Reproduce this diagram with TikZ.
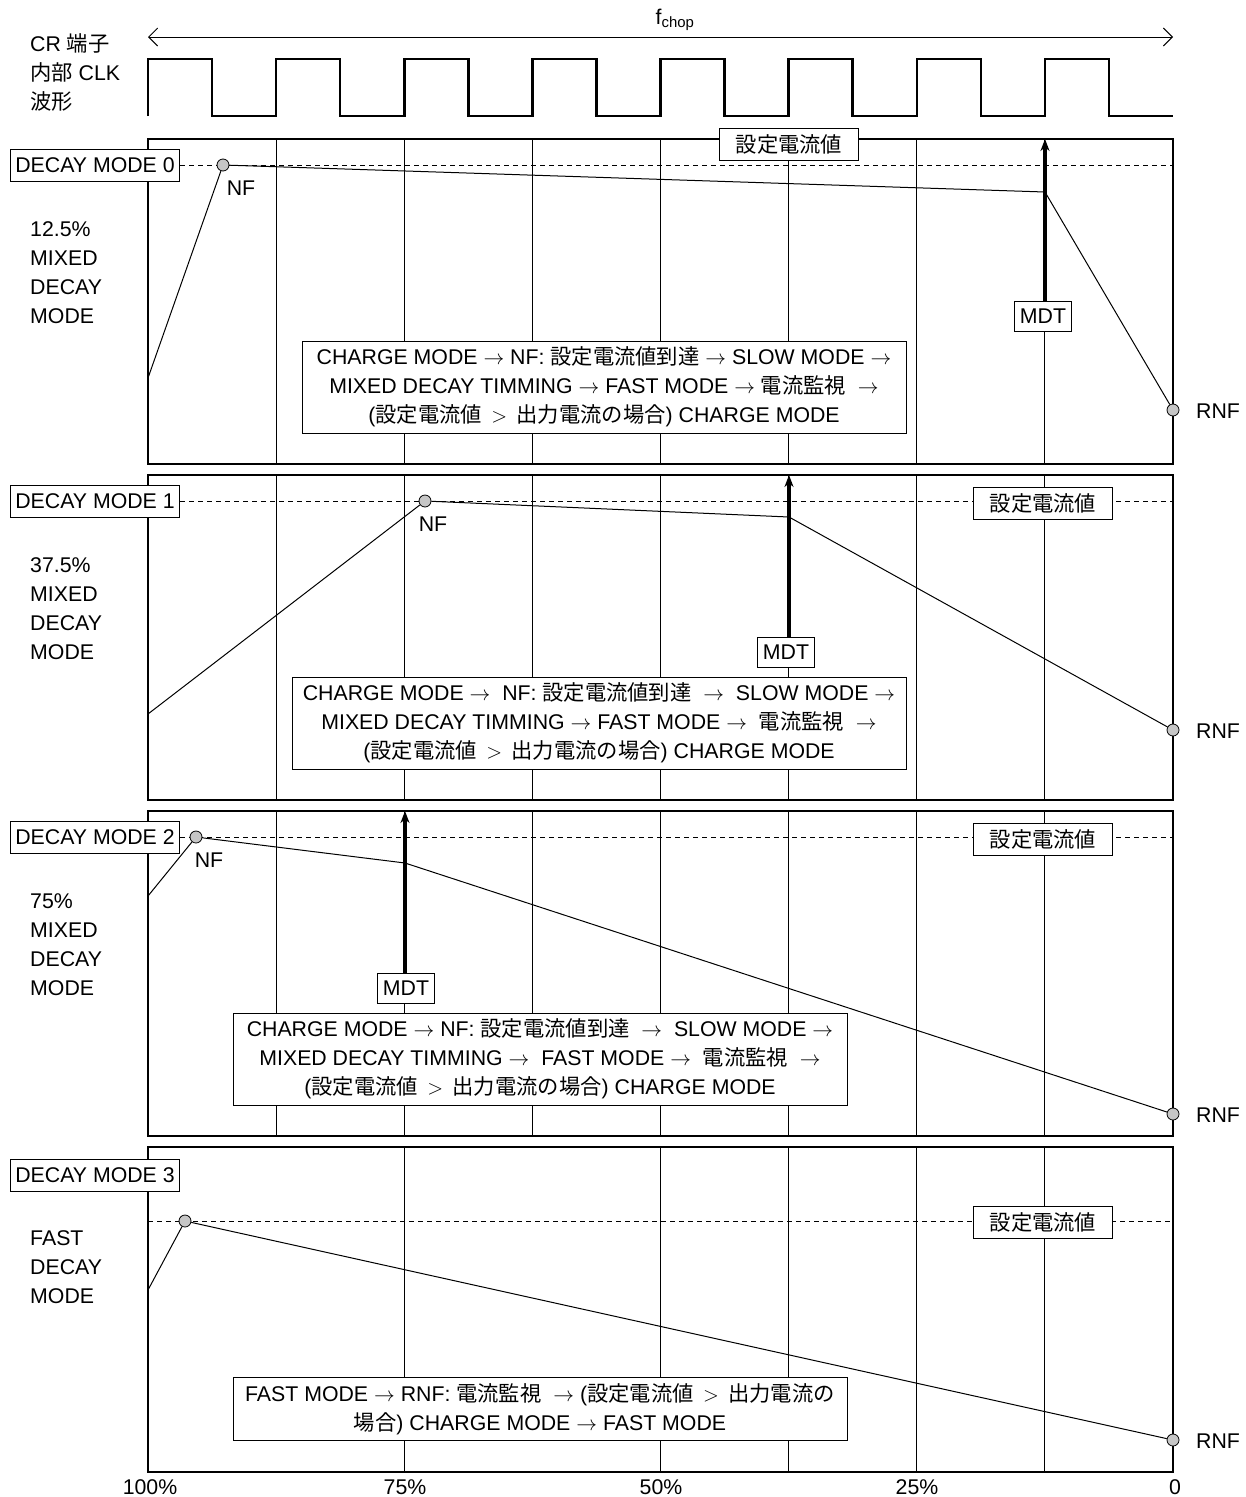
\documentclass[tikz,border=0pt]{standalone}
\usepackage{fontspec}
\setmainfont{Liberation Sans}
\newfontfamily\jpfont{Noto Sans CJK JP}
\newcommand{\jp}[1]{{\jpfont #1}}
\usetikzlibrary{arrows.meta}

\begin{document}
\begin{tikzpicture}[x=1pt, y=-1pt,
    every node/.style={font=\fontsize{21.3}{29}\selectfont},
    panel/.style={line width=1.3pt},
    gridline/.style={line width=0.9pt},
    tagbox/.style={draw, line width=1pt, fill=white, inner xsep=5pt, minimum height=32pt},
    setlevel/.style={dash pattern=on 5pt off 4pt, line width=0.9pt},
    track/.style={line width=1pt},
    dot/.style={circle, draw, line width=0.8pt, fill=gray!45, inner sep=0pt, minimum size=12pt},
    mdtarrow/.style={line width=3.5pt, -{Stealth[length=12pt, width=9pt]}},
    descbox/.style={draw, line width=1pt, fill=white, align=center},
    kind/.style={anchor=west, align=left, inner sep=0pt},
    clk/.style={line width=2.5pt, line join=miter}]
    \useasboundingbox (0,0) rectangle (1246,1497);

    % Clock row
    \node[kind] (crlab) at (30,72) {CR \jp{端子}\\\jp{内部} CLK\\\jp{波形}};
    \coordinate (chopL) at (148,37);
    \coordinate (chopR) at (1173,37);
    \draw[{Straight Barb[length=9pt]}-{Straight Barb[length=9pt]}, line width=0.9pt] (chopL) -- (chopR);
    \node (fchop) at (675,20) {f\textsubscript{chop}};
    \draw[clk] (148,116) \foreach \i in {0,...,7} {
        -- ++(0,-57) -- ++(64.0625,0) -- ++(0,57) -- ++(64.0625,0)
    };

    % DECAY MODE 0
    \begin{scope}
        \draw[panel] (148,139) rectangle (1173,464);
        \foreach \i in {1,...,7} {
            \draw[gridline] (148+128.125*\i,139) -- (148+128.125*\i,464);
        }
        \node[tagbox] (mode0) at (95,165) {DECAY MODE 0};
        \coordinate (lvl0) at (1173,165);
        \draw[setlevel] (mode0.east) -- (lvl0);
        \node[tagbox, minimum width=139pt] (set0) at (789,144) {\jp{設定電流値}};
        \node[kind] (kind0) at (30,273) {12.5\%\\MIXED\\DECAY\\MODE};

        \coordinate (start0) at (148,378);
        \node[dot] (nf0) at (223,165) {};
        \coordinate (kink0) at (1045,192);
        \node[dot] (rnf0) at (1173,410) {};
        \draw[track] (start0) -- (nf0) -- (kink0) -- (rnf0);
        \node (nflab0) at (241,188) {NF};
        \node (rnflab0) at (1218,411) {RNF};

        \node[tagbox, minimum height=30pt] (mdt0) at (1043,316) {MDT};
        \coordinate (mdttop0) at (1045,139);
        \draw[mdtarrow] (mdt0.north -| mdttop0) -- (mdttop0);

        \node[descbox, minimum width=604pt, minimum height=92pt] (desc0) at (604,387)
            {CHARGE MODE $\rightarrow$ NF:\ \jp{設定電流値到達} $\rightarrow$ SLOW MODE $\rightarrow$\\
             MIXED DECAY TIMMING $\rightarrow$ FAST MODE $\rightarrow$ \jp{電流監視} \ $\rightarrow$\\
             (\jp{設定電流値} \,$>$\, \jp{出力電流の場合}) CHARGE MODE};
    \end{scope}

    % DECAY MODE 1
    \begin{scope}[shift={(0,336)}]
        \draw[panel] (148,139) rectangle (1173,464);
        \foreach \i in {1,...,7} {
            \draw[gridline] (148+128.125*\i,139) -- (148+128.125*\i,464);
        }
        \node[tagbox] (mode1) at (95,165) {DECAY MODE 1};
        \coordinate (lvl1) at (1173,165);
        \draw[setlevel] (mode1.east) -- (lvl1);
        \node[tagbox, minimum width=139pt] (set1) at (1043,167) {\jp{設定電流値}};
        \node[kind] (kind1) at (30,273) {37.5\%\\MIXED\\DECAY\\MODE};

        \coordinate (start1) at (148,378);
        \node[dot] (nf1) at (425,165) {};
        \coordinate (kink1) at (789,181);
        \node[dot] (rnf1) at (1173,394) {};
        \draw[track] (start1) -- (nf1) -- (kink1) -- (rnf1);
        \node (nflab1) at (433,188) {NF};
        \node (rnflab1) at (1218,395) {RNF};

        \node[tagbox, minimum height=30pt] (mdt1) at (786,316) {MDT};
        \coordinate (mdttop1) at (789,139);
        \draw[mdtarrow] (mdt1.north -| mdttop1) -- (mdttop1);

        \node[descbox, minimum width=614pt, minimum height=92pt] (desc1) at (599,387)
            {CHARGE MODE $\rightarrow$ \ NF:\ \jp{設定電流値到達} \ $\rightarrow$ \ SLOW MODE $\rightarrow$\\
             MIXED DECAY TIMMING $\rightarrow$ FAST MODE $\rightarrow$ \ \jp{電流監視} \ $\rightarrow$\\
             (\jp{設定電流値} \,$>$\, \jp{出力電流の場合}) CHARGE MODE};
    \end{scope}

    % DECAY MODE 2
    \begin{scope}[shift={(0,672)}]
        \draw[panel] (148,139) rectangle (1173,464);
        \foreach \i in {1,...,7} {
            \draw[gridline] (148+128.125*\i,139) -- (148+128.125*\i,464);
        }
        \node[tagbox] (mode2) at (95,165) {DECAY MODE 2};
        \coordinate (lvl2) at (1173,165);
        \draw[setlevel] (mode2.east) -- (lvl2);
        \node[tagbox, minimum width=139pt] (set2) at (1043,167) {\jp{設定電流値}};
        \node[kind] (kind2) at (30,273) {75\%\\MIXED\\DECAY\\MODE};

        \coordinate (start2) at (148,224);
        \node[dot] (nf2) at (196,165) {};
        \coordinate (kink2) at (405,191);
        \node[dot] (rnf2) at (1173,442) {};
        \draw[track] (start2) -- (nf2) -- (kink2) -- (rnf2);
        \node (nflab2) at (209,188) {NF};
        \node (rnflab2) at (1218,443) {RNF};

        \node[tagbox, minimum height=30pt] (mdt2) at (406,316) {MDT};
        \coordinate (mdttop2) at (405,139);
        \draw[mdtarrow] (mdt2.north -| mdttop2) -- (mdttop2);

        \node[descbox, minimum width=614pt, minimum height=92pt] (desc2) at (540,387)
            {CHARGE MODE $\rightarrow$ NF:\ \jp{設定電流値到達} \ $\rightarrow$ \ SLOW MODE $\rightarrow$\\
             MIXED DECAY TIMMING $\rightarrow$ \ FAST MODE $\rightarrow$ \ \jp{電流監視} \ $\rightarrow$\\
             (\jp{設定電流値} \,$>$\, \jp{出力電流の場合}) CHARGE MODE};
    \end{scope}

    % DECAY MODE 3
    \begin{scope}[shift={(0,1008)}]
        \draw[panel] (148,139) rectangle (1173,464);
        \foreach \i in {2,4,5,6,7} {
            \draw[gridline] (148+128.125*\i,139) -- (148+128.125*\i,464);
        }
        \node[tagbox] (mode3) at (95,167) {DECAY MODE 3};
        \coordinate (lvl3L) at (148,213);
        \coordinate (lvl3) at (1173,213);
        \draw[setlevel] (lvl3L) -- (lvl3);
        \node[tagbox, minimum width=139pt] (set3) at (1043,214) {\jp{設定電流値}};
        \node[kind] (kind3) at (30,259) {FAST\\DECAY\\MODE};

        \coordinate (start3) at (148,282);
        \node[dot] (nf3) at (185,213) {};
        \node[dot] (rnf3) at (1173,432) {};
        \draw[track] (start3) -- (nf3) -- (rnf3);
        \node (rnflab3) at (1218,433) {RNF};

        \node[descbox, minimum width=614pt, minimum height=63pt] (desc3) at (540,401)
            {FAST MODE $\rightarrow$ RNF:\ \jp{電流監視} \ $\rightarrow$ (\jp{設定電流値} \,$>$\, \jp{出力電流の}\\
             \jp{場合}) CHARGE MODE $\rightarrow$ FAST MODE};
    \end{scope}

    % Axis
    \foreach \p/\t in {150/100\%, 405/75\%, 661/50\%, 917/25\%, 1175/0} {
        \node[inner sep=0pt] (ax\p) at (\p,1487) {\t};
    }
\end{tikzpicture}
\end{document}
